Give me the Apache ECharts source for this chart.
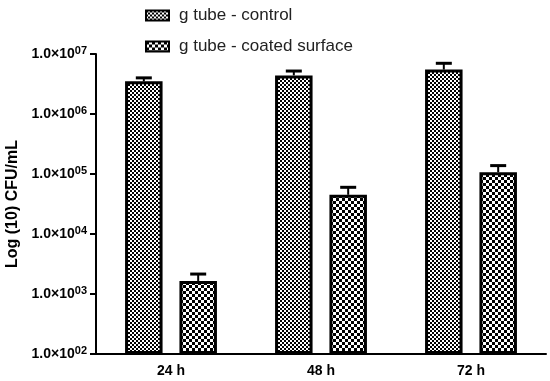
<!DOCTYPE html>
<html><head><meta charset="utf-8">
<script src="https://cdn.jsdelivr.net/npm/echarts@6/dist/echarts.min.js"></script>
<style>html,body{margin:0;padding:0;background:#fff}#c{width:550px;height:381px}</style>
</head><body><div id="c"></div>
<script>
const categories = ['24 h', '48 h', '72 h'];
const seriesNames = ['g tube - control', 'g tube - coated surface'];
const controlMean = [3.5e6, 4.4e6, 5.5e6];
const controlUpper = [4.0e6, 5.2e6, 7.0e6];
const coatedMean = [1.65e3, 4.5e4, 1.07e5];
const coatedUpper = [2.15e3, 6.0e4, 1.38e5];
const yMin = 1e2, yMax = 1e7;

const BAR_W = 0.25, BAR_GAP = 0.45;
const FONT = '"Liberation Sans", Arial, sans-serif';

function checker(size) {
  const c = document.createElement('canvas');
  c.width = size * 2; c.height = size * 2;
  const g = c.getContext('2d');
  g.fillStyle = '#fff'; g.fillRect(0, 0, size * 2, size * 2);
  g.fillStyle = '#000';
  g.fillRect(0, 0, size, size);
  g.fillRect(size, size, size, size);
  return c;
}
const fineImg = checker(2), coarseImg = checker(3);

function errRender(sign) {
  return function (params, api) {
    const x = api.value(0);
    const base = api.coord([x, api.value(1)]);
    const top = api.coord([x, api.value(2)]);
    const band = api.size([1, api.value(1)])[0];
    const w = band * BAR_W, gap = w * BAR_GAP;
    const cx = base[0] + sign * (w / 2 + gap / 2);
    const half = 8;
    return {
      type: 'group',
      children: [
        { type: 'line', shape: { x1: cx, y1: base[1], x2: cx, y2: top[1] }, style: { stroke: '#000', lineWidth: 2 } },
        { type: 'line', shape: { x1: cx - half, y1: top[1], x2: cx + half, y2: top[1] }, style: { stroke: '#000', lineWidth: 3 } }
      ]
    };
  };
}

const chart = echarts.init(document.getElementById('c'), null, { renderer: 'canvas' });
chart.setOption({
  animation: false,
  backgroundColor: '#fff',
  grid: { left: 96, right: 4, top: 54, bottom: 27, containLabel: false, outerBoundsMode: 'none' },
  legend: {
    orient: 'vertical', left: 140, top: 2, itemWidth: 23, itemHeight: 10, itemGap: 14,
    icon: 'rect',
    data: seriesNames,
    formatter: n => '{a|' + n + '}',
    textStyle: { fontFamily: FONT, fontSize: 17, color: '#222', rich: { a: { fontFamily: FONT, fontSize: 17, color: '#222', padding: [0, 0, 0, 5] } } }
  },
  xAxis: {
    type: 'category', data: categories,
    axisLine: { lineStyle: { color: '#000', width: 2 } },
    axisTick: { alignWithLabel: true, length: 6, lineStyle: { color: '#000', width: 2 } },
    axisLabel: { fontFamily: FONT, fontSize: 14, fontWeight: 'bold', color: '#000', margin: 10 }
  },
  yAxis: {
    type: 'log', logBase: 10, min: yMin, max: yMax, startValue: yMin,
    name: 'Log (10) CFU/mL', nameLocation: 'middle', nameGap: 74,
    nameTextStyle: { fontFamily: FONT, fontSize: 16, fontWeight: 'bold', color: '#000' },
    splitLine: { show: false },
    minorTick: { show: false },
    axisLine: { show: true, lineStyle: { color: '#000', width: 2 } },
    axisTick: { show: true, length: 6, lineStyle: { color: '#000', width: 2 } },
    axisLabel: {
      margin: 9,
      formatter: v => {
        const e = Math.round(Math.log10(v));
        return '{m|1.0×10}{s|' + String(e).padStart(2, '0') + '}';
      },
      rich: {
        m: { fontFamily: FONT, fontSize: 14, fontWeight: 'bold', color: '#000' },
        s: { fontFamily: FONT, fontSize: 11, fontWeight: 'bold', color: '#000', verticalAlign: 'top', padding: [0, 0, 7, 0] }
      }
    }
  },
  series: [
    {
      name: seriesNames[0], type: 'bar', data: controlMean, barWidth: (BAR_W * 100) + '%', barGap: (BAR_GAP * 100) + '%',
      itemStyle: { color: { image: fineImg, repeat: 'repeat' }, borderColor: '#000', borderWidth: 3 },
      z: 2
    },
    {
      name: seriesNames[1], type: 'bar', data: coatedMean, barWidth: (BAR_W * 100) + '%', barGap: (BAR_GAP * 100) + '%',
      itemStyle: { color: { image: coarseImg, repeat: 'repeat' }, borderColor: '#000', borderWidth: 3 },
      z: 2
    },
    {
      type: 'custom', renderItem: errRender(-1), z: 3,
      data: categories.map((c, i) => [i, controlMean[i], controlUpper[i]]),
      encode: { x: 0, y: [1, 2] }
    },
    {
      type: 'custom', renderItem: errRender(1), z: 3,
      data: categories.map((c, i) => [i, coatedMean[i], coatedUpper[i]]),
      encode: { x: 0, y: [1, 2] }
    }
  ]
});
</script>
</body></html>
